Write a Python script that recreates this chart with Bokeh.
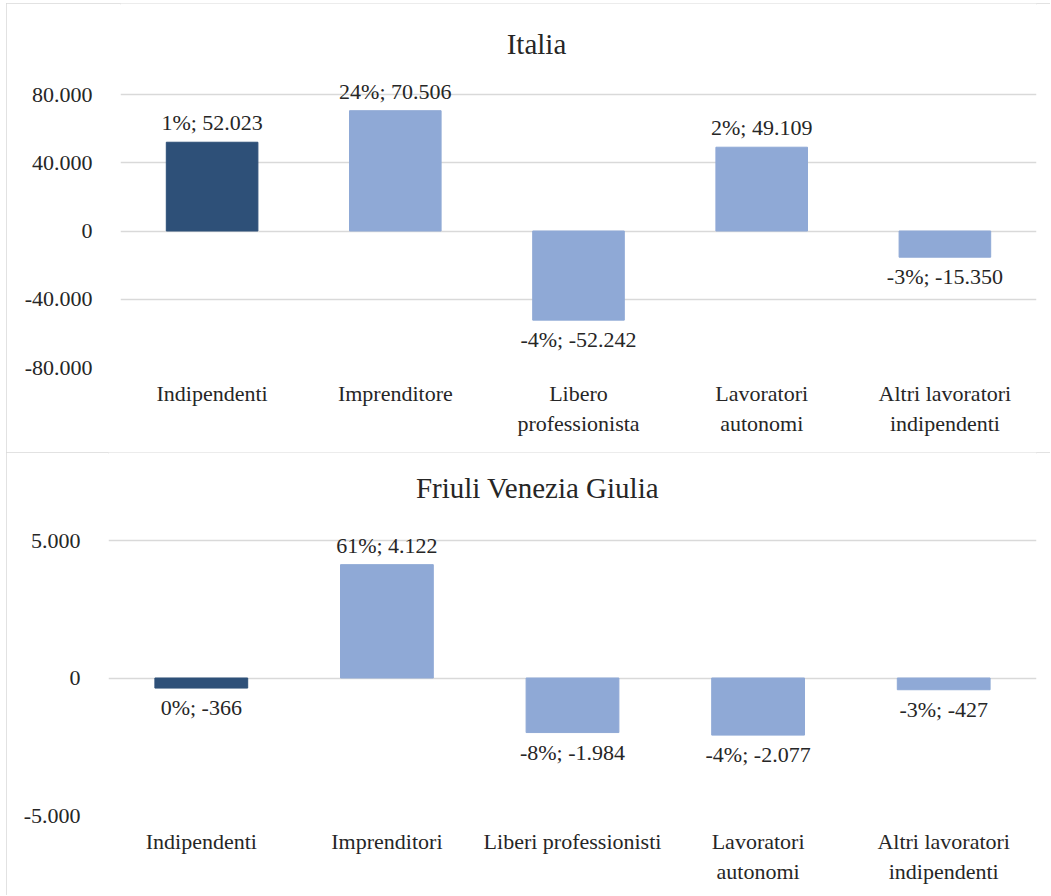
from bokeh.plotting import figure
from bokeh.models import ColumnDataSource, FixedTicker, Range1d, LabelSet, Label
from bokeh.layouts import column
from bokeh.embed import file_html
from bokeh.resources import INLINE

# ---- data: Italia ----
title_it = "Italia"
cats_it = ["Indipendenti", "Imprenditore", "Libero\nprofessionista",
           "Lavoratori\nautonomi", "Altri lavoratori\nindipendenti"]
vals_it = [52023, 70506, -52242, 49109, -15350]
pct_it = [1, 24, -4, 2, -3]
ticks_it = [-80000, -40000, 0, 40000, 80000]
ticklabels_it = ["-80.000", "-40.000", "0", "40.000", "80.000"]

# ---- data: Friuli Venezia Giulia ----
title_fvg = "Friuli Venezia Giulia"
cats_fvg = ["Indipendenti", "Imprenditori", "Liberi professionisti",
            "Lavoratori\nautonomi", "Altri lavoratori\nindipendenti"]
vals_fvg = [-366, 4122, -1984, -2077, -427]
pct_fvg = [0, 61, -8, -4, -3]
ticks_fvg = [-5000, 0, 5000]
ticklabels_fvg = ["-5.000", "0", "5.000"]

DARK = "#2E5078"
LIGHT = "#8FA9D6"
GRID = "#D9D9D9"
TXT = "#262626"
FONT = "Liberation Serif"


def fmt(v):
    return f"{v:,}".replace(",", ".")


def panel(title, cats, vals, pct, ticks, ticklabels, height, bl, top_px, bottom_px,
          title_x, title_base_px, margin):
    """top_px / bottom_px: pixel rows (from figure top) of the highest / lowest tick."""
    colors = [DARK] + [LIGHT] * (len(cats) - 1)
    labels = [f"{p}%; {fmt(v)}" for p, v in zip(pct, vals)]
    offs = [12 if v >= 0 else -27 for v in vals]
    src = ColumnDataSource(dict(cat=cats, val=vals, color=colors, label=labels, off=offs))

    # frame spans from the figure top down to the lowest tick; extend the range upward
    per_px = (ticks[-1] - ticks[0]) / (bottom_px - top_px)
    y_end = ticks[-1] + top_px * per_px
    frame_h = bottom_px

    p = figure(x_range=cats, y_range=Range1d(ticks[0], y_end),
               width=1044, height=height, output_backend="svg", toolbar_location=None,
               min_border_left=bl, min_border_right=14, min_border_top=0,
               min_border_bottom=height - bottom_px)
    p.frame_align = False
    p.margin = margin
    p.styles = {"outline": f"2px solid {GRID}", "outline-offset": "-2px"}
    p.outline_line_color = None
    p.background_fill_color = "white"
    p.border_fill_color = "white"

    p.add_layout(Label(x=title_x, y=frame_h - title_base_px, x_units="screen", y_units="screen",
                       text=title, text_align="center", text_baseline="alphabetic",
                       text_font=FONT, text_font_size="29px", text_color=TXT))

    p.vbar(x="cat", top="val", bottom=0, width=0.5, color="color", source=src)
    p.add_layout(LabelSet(x="cat", y="val", text="label", source=src, text_align="center",
                          text_baseline="alphabetic", y_offset="off",
                          text_font=FONT, text_font_size="22px", text_color=TXT))

    p.xgrid.visible = False
    p.ygrid.grid_line_color = GRID
    p.ygrid.grid_line_width = 1.5

    p.yaxis.ticker = FixedTicker(ticks=ticks)
    p.yaxis.major_label_overrides = {t: l for t, l in zip(ticks, ticklabels)}
    for ax in (p.xaxis, p.yaxis):
        ax.axis_line_color = None
        ax.major_tick_line_color = None
        ax.minor_tick_line_color = None
        ax.major_tick_out = 0
        ax.major_tick_in = 0
        ax.major_label_text_font = FONT
        ax.major_label_text_font_size = "22px"
        ax.major_label_text_color = TXT
    p.yaxis.major_label_standoff = 28
    p.xaxis.major_label_standoff = 13
    p.xaxis.major_label_text_line_height = 1.2
    return p


p1 = panel(title_it, cats_it, vals_it, pct_it, ticks_it, ticklabels_it,
           449, 114, 91, 364, 416, 40, (3, 0, 0, 6))
p2 = panel(title_fvg, cats_fvg, vals_fvg, pct_fvg, ticks_fvg, ticklabels_fvg,
           443, 102, 88, 363, 429, 35, (0, 0, 0, 6))

layout = column(p1, p2)
open("out.html", "w").write(file_html(layout, INLINE))
